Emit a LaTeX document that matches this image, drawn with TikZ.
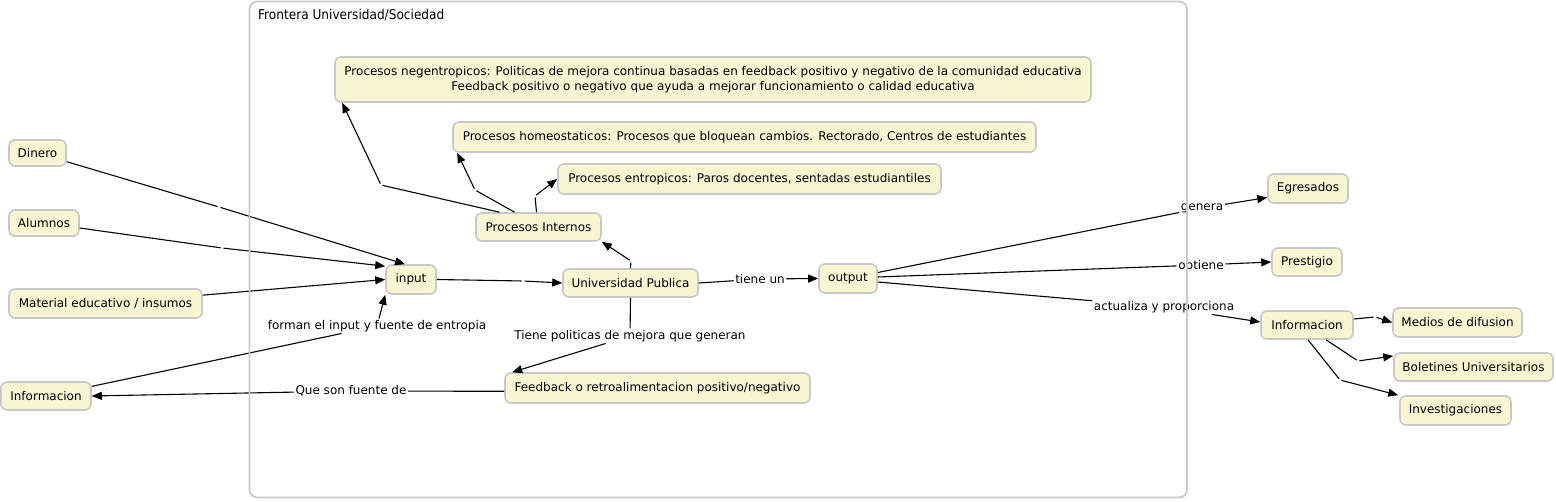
\documentclass[tikz,border=0pt]{standalone}
\usepackage{fontspec}
\setmainfont{DejaVu Sans}
\newfontfamily\condfont{DejaVu Sans Condensed}
\usetikzlibrary{arrows.meta}
\definecolor{cfill}{RGB}{248,246,210}
\definecolor{cborder}{RGB}{200,200,200}
\begin{document}
\begin{tikzpicture}[x=1pt,y=-1pt,
  concept/.style={draw=cborder, line width=1.6pt, fill=cfill, rounded corners=6pt, inner sep=0pt, align=center, font=\fontsize{12}{15}\selectfont},
  lbl/.style={inner sep=1.5pt, font=\fontsize{12}{14}\selectfont},
  conn/.style={line width=1.1pt, draw=black},
  half/.style={conn, shorten >=1.5pt},
  arr/.style={conn, -{Triangle[length=10pt,width=8pt]}},
  arrh/.style={arr, shorten <=1.5pt},
  frontier/.style={draw=cborder, line width=1.8pt, rounded corners=8pt}
]
\useasboundingbox (0,0) rectangle (1556,502);

% concepts
\node[concept, minimum width=57pt,  minimum height=26pt] (dinero)   at (37.5,153)   {Dinero};
\node[concept, minimum width=70pt,  minimum height=26pt] (alumnos)  at (44,223)     {Alumnos};
\node[concept, minimum width=193pt, minimum height=29pt] (material) at (105.5,303.5) {Material educativo / insumos};
\node[concept, minimum width=90pt,  minimum height=28pt] (infoL)    at (46,396)     {Informacion};
\node[concept, minimum width=50pt,  minimum height=29pt] (input)    at (411,279.5)  {input};
\node[concept, minimum width=125pt, minimum height=28pt] (pint)     at (538.5,227)  {Procesos Internos};
\node[concept, minimum width=135pt, minimum height=28pt] (upub)     at (630.5,283)  {Universidad Publica};
\node[concept, minimum width=58pt,  minimum height=29pt] (output)   at (848,278.5)  {output};
\node[concept, minimum width=756pt, minimum height=45pt] (neg)      at (713,79.5)   {Procesos negentropicos: Politicas de mejora continua basadas en feedback positivo y negativo de la comunidad educativa\\Feedback positivo o negativo que ayuda a mejorar funcionamiento o calidad educativa};
\node[concept, minimum width=583pt, minimum height=30pt] (homeo)    at (744.5,137)  {Procesos homeostaticos: Procesos que bloquean cambios. Rectorado, Centros de estudiantes};
\node[concept, minimum width=383pt, minimum height=30pt] (entrop)   at (749.5,179)  {Procesos entropicos: Paros docentes, sentadas estudiantiles};
\node[concept, minimum width=305pt, minimum height=30pt] (feed)     at (657.5,388)  {Feedback o retroalimentacion positivo/negativo};
\node[concept, minimum width=80pt,  minimum height=29pt] (egres)    at (1308,188.5) {Egresados};
\node[concept, minimum width=70pt,  minimum height=28pt] (presti)   at (1307,262)   {Prestigio};
\node[concept, minimum width=92pt,  minimum height=28pt] (infoR)    at (1307,325)   {Informacion};
\node[concept, minimum width=129pt, minimum height=29pt] (medios)   at (1457.5,322.5) {Medios de difusion};
\node[concept, minimum width=159pt, minimum height=28pt] (bolet)    at (1473.5,367) {Boletines Universitarios};
\node[concept, minimum width=111pt, minimum height=29pt] (invest)   at (1455.5,410.5) {Investigaciones};

% linking phrases
\node[lbl] (lforman) at (377,326) {forman el input y fuente de entropia};
\node[lbl] (ltiene)  at (630,336) {Tiene politicas de mejora que generan};
\node[lbl] (lque)    at (351,391) {Que son fuente de};
\node[lbl] (ltun)    at (760,279) {tiene un};
\node[lbl] (lgen)    at (1202,208) {genera};
\node[lbl] (lobt)    at (1201,265) {obtiene};
\node[lbl] (lact)    at (1164,307) {actualiza y proporciona};

% empty linking phrases
\coordinate (e1) at (219,207);
\coordinate (e2) at (222,248);
\coordinate (e4) at (523,281);
\coordinate (e5) at (631,261);
\coordinate (e6) at (381,185);
\coordinate (e7) at (475,190);
\coordinate (e8) at (535,196);
\coordinate (e9) at (1375,317);
\coordinate (e10) at (1358,361);
\coordinate (e11) at (1340,380);

% connectors
\draw[half] (dinero) -- (e1);
\draw[arrh] (e1) -- ([xshift=-6pt]input.north);
\draw[half] (alumnos) -- (e2);
\draw[arrh] (e2) -- ([yshift=-2pt]input.north west);
\draw[arr] (material) -- (input.west);
\draw[conn] (infoL) -- (lforman);
\draw[arr] (lforman) -- (input.south west);
\draw[half] (input.east) -- (e4);
\draw[arrh] (e4) -- (upub.west);
\draw[half] (upub.north) -- (e5);
\draw[arrh] (e5) -- (pint.south east);
\draw[half] ([xshift=-39pt]pint.north) -- (e6);
\draw[arrh] (e6) -- ([xshift=8pt]neg.south west);
\draw[half] ([xshift=-24pt]pint.north) -- (e7);
\draw[arrh] (e7) -- ([xshift=5pt]homeo.south west);
\draw[half] ([xshift=-2pt]pint.north) -- (e8);
\draw[arrh] (e8) -- (entrop.west);
\draw[conn] (upub.south) -- (ltiene);
\draw[arr] (ltiene) -- ([xshift=8pt]feed.north west);
\draw[conn] ([yshift=-3.3pt]feed.west) -- (lque);
\draw[arr] (lque) -- (infoL.east);
\draw[conn] (upub.east) -- (ltun);
\draw[arr] (ltun) -- (output.west);
\draw[conn] ([yshift=6pt]output.east) -- (lgen);
\draw[arr] (lgen) -- ([yshift=-9pt]egres.west);
\draw[conn] ([yshift=1.5pt]output.east) -- (lobt);
\draw[arr] (lobt) -- (presti.west);
\draw[conn] ([yshift=-3.5pt]output.east) -- (lact);
\draw[arr] (lact) -- ([yshift=3pt]infoR.west);
\draw[half] ([yshift=6pt]infoR.east) -- (e9);
\draw[arrh] (e9) -- (medios.west);
\draw[half] ([xshift=19pt]infoR.south) -- (e10);
\draw[arrh] (e10) -- ([yshift=11pt]bolet.west);
\draw[half] ([xshift=1pt]infoR.south) -- (e11);
\draw[arrh] (e11) -- ([xshift=-1pt]invest.north west);

% frontier
\draw[frontier] (249.5,1.5) rectangle (1187,497.5);
\node[anchor=west, inner sep=0pt, font=\condfont\fontsize{13.5}{15}\selectfont] (front) at (258,15) {Frontera Universidad/Sociedad};
\end{tikzpicture}
\end{document}
